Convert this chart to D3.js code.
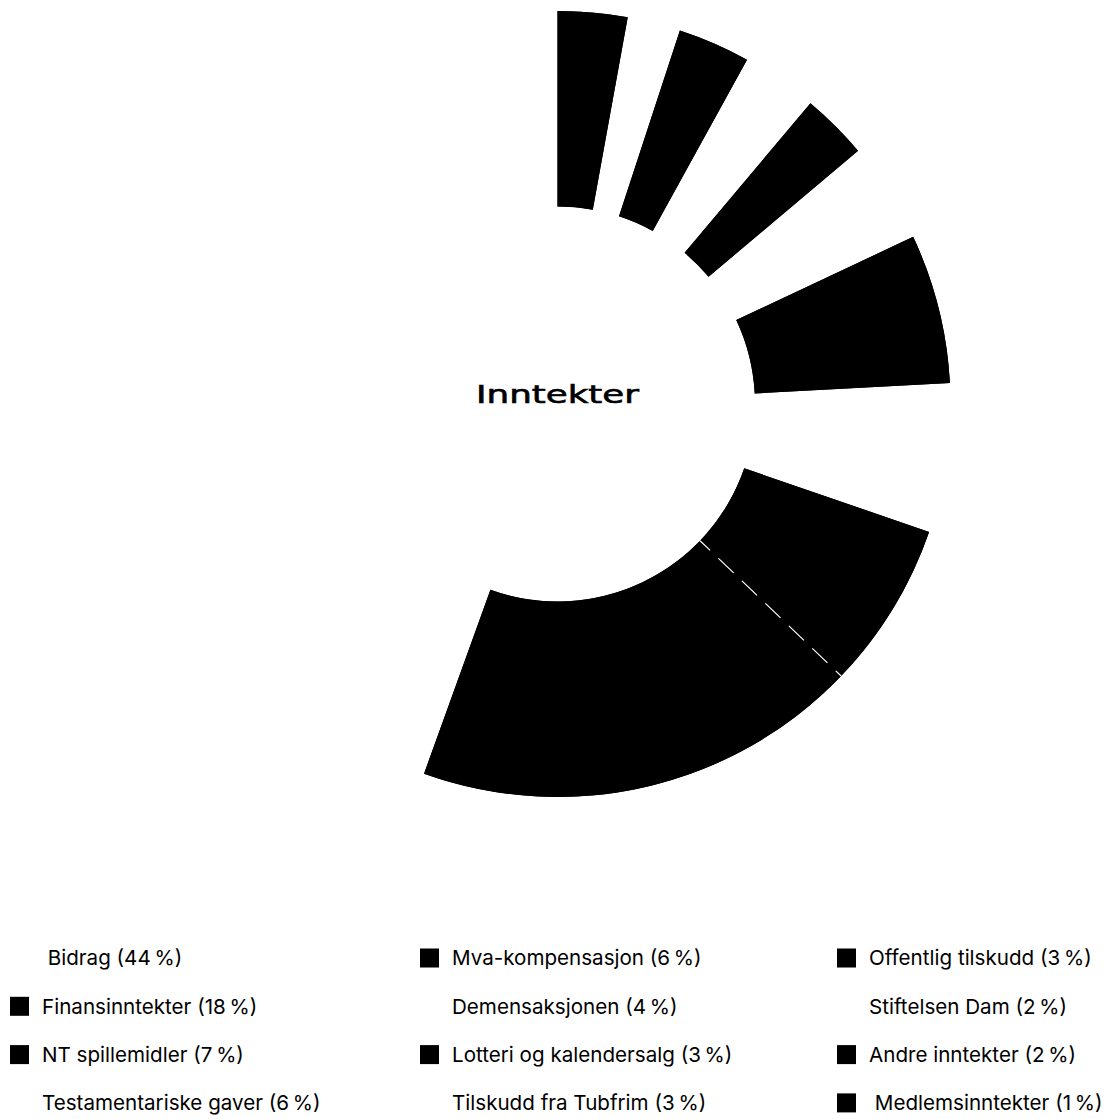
<!DOCTYPE html>
<html>
<head>
<meta charset="utf-8">
<script src="https://cdn.jsdelivr.net/npm/d3@7"></script>
<style>
  body { margin: 0; background: #fff; }
  svg { display: block; }
  text { white-space: pre; }
</style>
</head>
<body>
<div id="chart"></div>
<script>
// 1: DATA (shares, labels as printed)
const categories = [
    " Bidrag", "Finansinntekter", "NT spillemidler", "Testamentariske gaver",
    "Mva-kompensasjon", "Demensaksjonen", "Lotteri og kalendersalg", "Tilskudd fra Tubfrim",
    "Offentlig tilskudd", "Stiftelsen Dam", "Andre inntekter", " Medlemsinntekter"
];
const values = [44.49, 18.35, 6.89, 6.13, 6.14, 4.15, 2.73, 3.12, 2.97, 2.18, 1.9, 0.96];
const labelPct = [44, 18, 7, 6, 6, 4, 3, 3, 3, 2, 2, 1];
const colors = ["#fff", "#000", "#000", "#fff", "#000", "#fff", "#000", "#fff", "#000", "#fff", "#000", "#000"];
const dashedBefore = "NT spillemidler";
const title = "Inntekter";

// 2: LAYOUT
const W = 1112, H = 1119;
const cx = 557.5, cy = 404;
const innerR = 197.5, outerR = 393;

const svg = d3.select("#chart")
    .append("svg")
    .attr("width", W)
    .attr("height", H);

const data = categories.map((c, i) => ({ name: c, value: values[i], pct: labelPct[i], color: colors[i] }));

// slices run anticlockwise from 12 o'clock
const pie = d3.pie()
    .sort(null)
    .value(d => d.value)
    .startAngle(0)
    .endAngle(-2 * Math.PI);

const arc = d3.arc()
    .innerRadius(innerR)
    .outerRadius(outerR);

const g = svg.append("g")
    .attr("transform", `translate(${cx},${cy})`);

const arcs = pie(data);

// backing arcs under runs of neighbouring black slices, so no seam shows between them
const runs = [];
arcs.forEach(d => {
    const last = runs[runs.length - 1];
    if (d.data.color !== "#000") return;
    if (last && last.end === d.startAngle) last.end = d.endAngle;
    else runs.push({ start: d.startAngle, end: d.endAngle });
});
g.selectAll("path.run")
    .data(runs)
    .join("path")
    .attr("class", "run")
    .attr("fill", "#000")
    .attr("d", r => arc({ startAngle: r.start, endAngle: r.end }));

g.selectAll("path.slice")
    .data(arcs)
    .join("path")
    .attr("class", "slice")
    .attr("fill", d => d.data.color)
    .attr("fill-opacity", d => d.data.color === "#000" ? 1 : 0)
    .attr("d", arc);

// dashed white divider between the two adjacent black slices at the bottom
const div = arcs.find(d => d.data.name === dashedBefore);
const a = div.startAngle;
g.append("line")
    .attr("x1", innerR * Math.sin(a))
    .attr("y1", -innerR * Math.cos(a))
    .attr("x2", outerR * Math.sin(a))
    .attr("y2", -outerR * Math.cos(a))
    .attr("stroke", "#fff")
    .attr("stroke-width", 1.2)
    .attr("stroke-dasharray", "21 11.5")
    .attr("stroke-dashoffset", 7);

g.append("text")
    .attr("x", 0)
    .attr("y", -1)
    .attr("text-anchor", "middle")
    .attr("font-family", "DejaVu Sans")
    .attr("font-size", 24.5)
    .attr("textLength", 163)
    .attr("lengthAdjust", "spacingAndGlyphs")
    .attr("fill", "#000")
    .attr("stroke", "#000")
    .attr("stroke-width", 0.6)
    .text(title);

// 3: LEGEND (column-major, 4 rows x 3 columns)
const colX = [42, 452, 869];
const rowY0 = 958, rowStep = 48.3;
const sq = 19;

const leg = svg.append("g");
data.forEach((d, i) => {
    const col = Math.floor(i / 4), row = i % 4;
    const x = colX[col], y = rowY0 + row * rowStep;
    leg.append("rect")
        .attr("x", x - 32)
        .attr("y", y - sq / 2)
        .attr("width", sq)
        .attr("height", sq)
        .attr("fill", d.color);
    leg.append("text")
        .attr("x", x)
        .attr("y", y)
        .attr("dy", "0.36em")
        .attr("font-family", "Inter")
        .attr("font-size", 20.6)
        .attr("fill", "#000")
        .text(`${d.name} (${d.pct}\u2009%)`);
});
</script>
</body>
</html>
